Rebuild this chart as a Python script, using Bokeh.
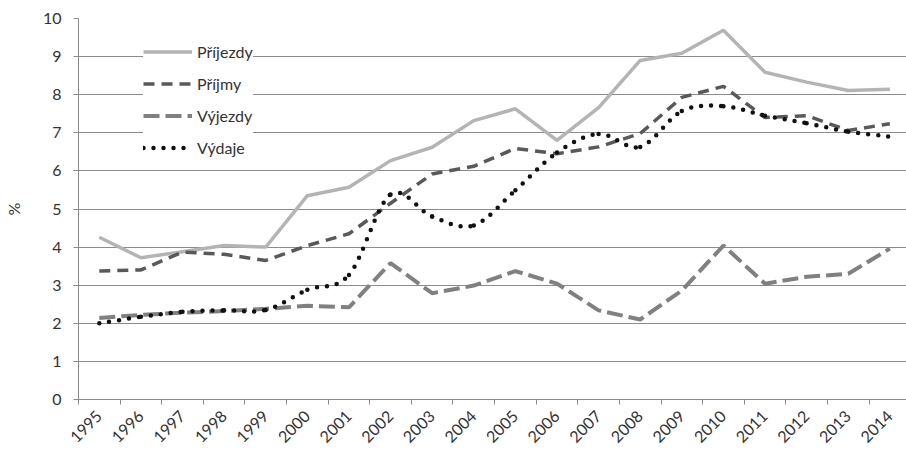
import math
from bokeh.plotting import figure
from bokeh.models import Range1d, FixedTicker, Legend, LegendItem, ColumnDataSource
from bokeh.embed import file_html
from bokeh.resources import INLINE

years = [str(y) for y in range(1995, 2015)]
prijezdy = [4.26, 3.72, 3.88, 4.04, 4.00, 5.35, 5.57, 6.27, 6.62, 7.32,
            7.63, 6.80, 7.66, 8.90, 9.09, 9.69, 8.59, 8.33, 8.11, 8.14]
prijmy = [3.37, 3.40, 3.87, 3.81, 3.65, 4.04, 4.35, 5.15, 5.92, 6.12,
          6.59, 6.45, 6.63, 6.98, 7.93, 8.22, 7.40, 7.45, 7.06, 7.24]
vyjezdy = [2.14, 2.22, 2.28, 2.32, 2.38, 2.46, 2.42, 3.58, 2.79, 2.99,
           3.37, 3.04, 2.34, 2.10, 2.86, 4.04, 3.04, 3.22, 3.30, 3.96]
vydaje = [2.00, 2.17, 2.30, 2.34, 2.35, 2.88, 3.27, 5.38, 4.80, 4.57,
          5.49, 6.48, 6.97, 6.63, 7.57, 7.70, 7.45, 7.25, 7.03, 6.90]
y_ticks = list(range(0, 11))

FONT = "Lato"
TXT = "#333333"
AX = "#8c8c8c"

xs = list(range(len(years)))

p = figure(width=906, height=450, x_range=Range1d(-0.5, 19.4), y_range=Range1d(0, 10),
           output_backend="svg", toolbar_location=None,
           min_border_left=74, min_border_right=0, min_border_top=18, min_border_bottom=51)
p.outline_line_color = None
p.background_fill_color = "white"
p.xgrid.visible = False
p.ygrid.ticker = FixedTicker(ticks=y_ticks)
p.ygrid.grid_line_color = AX
p.ygrid.grid_line_width = 1

# y axis
ya = p.yaxis[0]
ya.ticker = FixedTicker(ticks=y_ticks)
ya.axis_line_color = AX
ya.major_tick_line_color = AX
ya.major_tick_out = 5
ya.major_tick_in = 0
ya.minor_tick_line_color = None
ya.major_label_text_font = FONT
ya.major_label_text_font_size = "16px"
ya.major_label_text_color = TXT
ya.major_label_standoff = 12
ya.axis_label = "%"
ya.axis_label_text_font = FONT
ya.axis_label_text_font_size = "16px"
ya.axis_label_text_font_style = "normal"
ya.axis_label_text_color = TXT
ya.axis_label_standoff = 17

# x axis
xa = p.xaxis[0]
xa.ticker = FixedTicker(ticks=xs, minor_ticks=[i - 0.5 for i in range(len(years) + 1)])
xa.major_label_overrides = {i: years[i] for i in xs}
xa.axis_line_color = AX
xa.major_tick_line_color = None
xa.major_tick_out = 0
xa.major_tick_in = 0
xa.minor_tick_line_color = AX
xa.minor_tick_out = 5
xa.minor_tick_in = 0
xa.major_label_orientation = math.pi / 4
xa.major_label_text_font = FONT
xa.major_label_text_font_size = "16px"
xa.major_label_text_color = TXT
xa.major_label_standoff = 9

src = ColumnDataSource(dict(x=xs, prijezdy=prijezdy, prijmy=prijmy, vyjezdy=vyjezdy))

r1 = p.line("x", "prijezdy", source=src, line_color="#b4b4b4", line_width=3.5)
r2 = p.line("x", "prijmy", source=src, line_color="#595959", line_width=3.5, line_dash="11 7")
r3 = p.line("x", "vyjezdy", source=src, line_color="#808080", line_width=4, line_dash="16 6")

# smoothed (Bezier) rendering of the Výdaje series, control points derived from the data
n = len(vydaje)
bx0, by0, bx1, by1, cx0, cy0, cx1, cy1 = [], [], [], [], [], [], [], []
for i in range(n - 1):
    xp, yp = (xs[i - 1], vydaje[i - 1]) if i > 0 else (xs[i], vydaje[i])
    xn, yn = (xs[i + 2], vydaje[i + 2]) if i + 2 < n else (xs[i + 1], vydaje[i + 1])
    bx0.append(xs[i]); by0.append(vydaje[i])
    bx1.append(xs[i + 1]); by1.append(vydaje[i + 1])
    cx0.append(xs[i] + (xs[i + 1] - xp) / 6.0); cy0.append(vydaje[i] + (vydaje[i + 1] - yp) / 6.0)
    cx1.append(xs[i + 1] - (xn - xs[i]) / 6.0); cy1.append(vydaje[i + 1] - (yn - vydaje[i]) / 6.0)
bsrc = ColumnDataSource(dict(x0=bx0, y0=by0, x1=bx1, y1=by1, cx0=cx0, cy0=cy0, cx1=cx1, cy1=cy1))
r4 = p.bezier(x0="x0", y0="y0", x1="x1", y1="y1", cx0="cx0", cy0="cy0", cx1="cx1", cy1="cy1",
              source=bsrc, line_color="#111111", line_width=4.5, line_dash="0 10", line_cap="round")

legend = Legend(items=[LegendItem(label="Příjezdy", renderers=[r1]),
                       LegendItem(label="Příjmy", renderers=[r2]),
                       LegendItem(label="Výjezdy", renderers=[r3]),
                       LegendItem(label="Výdaje", renderers=[r4])],
                location=(65, 242))
legend.background_fill_color = "white"
legend.background_fill_alpha = 1
legend.border_line_color = None
legend.glyph_width = 49
legend.glyph_height = 19
legend.label_height = 19
legend.spacing = 13
legend.padding = 10
legend.margin = 0
legend.label_standoff = 5
legend.label_text_font = FONT
legend.label_text_font_size = "16px"
legend.label_text_color = TXT
p.add_layout(legend)

open("out.html", "w").write(file_html(p, INLINE))
